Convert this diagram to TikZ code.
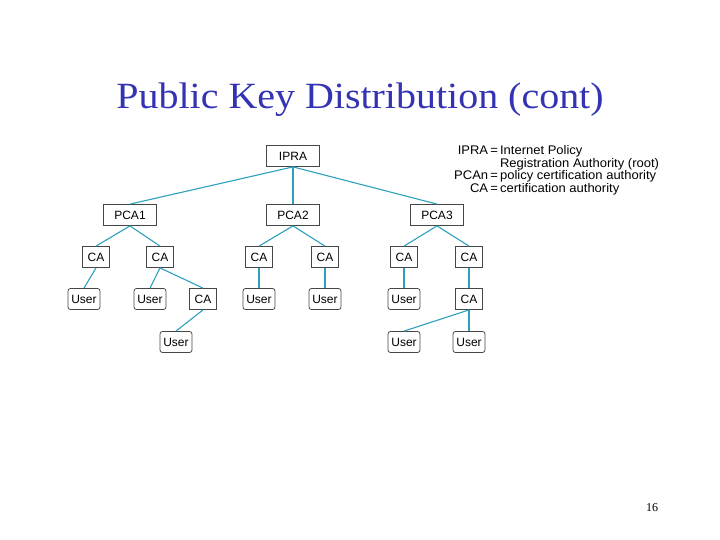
\documentclass[tikz,border=0pt]{standalone}
\usepackage{fontspec}
\setmainfont{Liberation Serif}
\newfontfamily\arialfont{Liberation Sans}
\usepackage{xcolor}
\usetikzlibrary{positioning}
\definecolor{titleblue}{RGB}{51,51,179}
\definecolor{linkcolor}{RGB}{45,160,190}
\definecolor{boxline}{RGB}{70,70,70}

\begin{document}
\begin{tikzpicture}[x=1pt,y=-1pt,
box/.style={draw=boxline,line width=0.8pt,fill=white,inner sep=0pt,minimum height=21pt,font=\arialfont\fontsize{12}{14}\selectfont},
wide/.style={box,minimum width=53pt},
small/.style={box,minimum width=27pt},
userbox/.style={box,rounded corners=2.5pt,minimum width=32pt},
link/.style={draw=linkcolor,line width=1.1pt}]
\useasboundingbox (0,0) rectangle (720,540);
\node[anchor=base,font=\fontsize{37}{40}\selectfont,text=titleblue] (title) at (360,109) {\scalebox{1.08}[1]{Public Key Distribution (cont)}};
% tree
\node[wide] (ipra) at (293,156) {IPRA};
\node[wide] (pca1) at (130,215) {PCA1};
\node[wide] (pca2) at (293,215) {PCA2};
\node[wide] (pca3) at (437,215) {PCA3};
\node[small] (ca11) at (96,257) {CA};
\node[small] (ca12) at (160,257) {CA};
\node[small] (ca21) at (259,257) {CA};
\node[small] (ca22) at (325,257) {CA};
\node[small] (ca31) at (404,257) {CA};
\node[small] (ca32) at (469,257) {CA};
\node[userbox] (u11) at (84,299) {User};
\node[userbox] (u12) at (150,299) {User};
\node[small] (ca13) at (203,299) {CA};
\node[userbox] (u21) at (259,299) {User};
\node[userbox] (u22) at (325,299) {User};
\node[userbox] (u31) at (404,299) {User};
\node[small] (ca33) at (469,299) {CA};
\node[userbox] (u13) at (176,342) {User};
\node[userbox] (u32) at (404,342) {User};
\node[userbox] (u33) at (469,342) {User};
\draw[link] (ipra.south) -- (pca1.north); \draw[link] (ipra.south) -- (pca2.north); \draw[link] (ipra.south) -- (pca3.north);
\draw[link] (pca1.south) -- (ca11.north); \draw[link] (pca1.south) -- (ca12.north);
\draw[link] (pca2.south) -- (ca21.north); \draw[link] (pca2.south) -- (ca22.north);
\draw[link] (pca3.south) -- (ca31.north); \draw[link] (pca3.south) -- (ca32.north);
\draw[link] (ca11.south) -- (u11.north); \draw[link] (ca12.south) -- (u12.north); \draw[link] (ca12.south) -- (ca13.north);
\draw[link] (ca21.south) -- (u21.north); \draw[link] (ca22.south) -- (u22.north);
\draw[link] (ca31.south) -- (u31.north); \draw[link] (ca32.south) -- (ca33.north);
\draw[link] (ca13.south) -- (u13.north);
\draw[link] (ca33.south) -- (u32.north); \draw[link] (ca33.south) -- (u33.north);
% legend
\node[anchor=north west,inner sep=0pt,font=\arialfont\fontsize{12.5}{13}\selectfont] (legend) at (454,145) {\scalebox{1.04}[1]{%
\renewcommand\arraystretch{0.96}%
\begin{tabular}{@{}r@{\,=\,}l@{}}
IPRA & Internet Policy\\
\multicolumn{1}{@{}r@{\hspace{3.3em}}}{} & Registration Authority (root)\\
PCAn & policy certification authority\\
CA & certification authority
\end{tabular}}};
\node[anchor=base,font=\fontsize{12}{14}\selectfont] (page) at (652,511) {16};
\end{tikzpicture}
\end{document}
